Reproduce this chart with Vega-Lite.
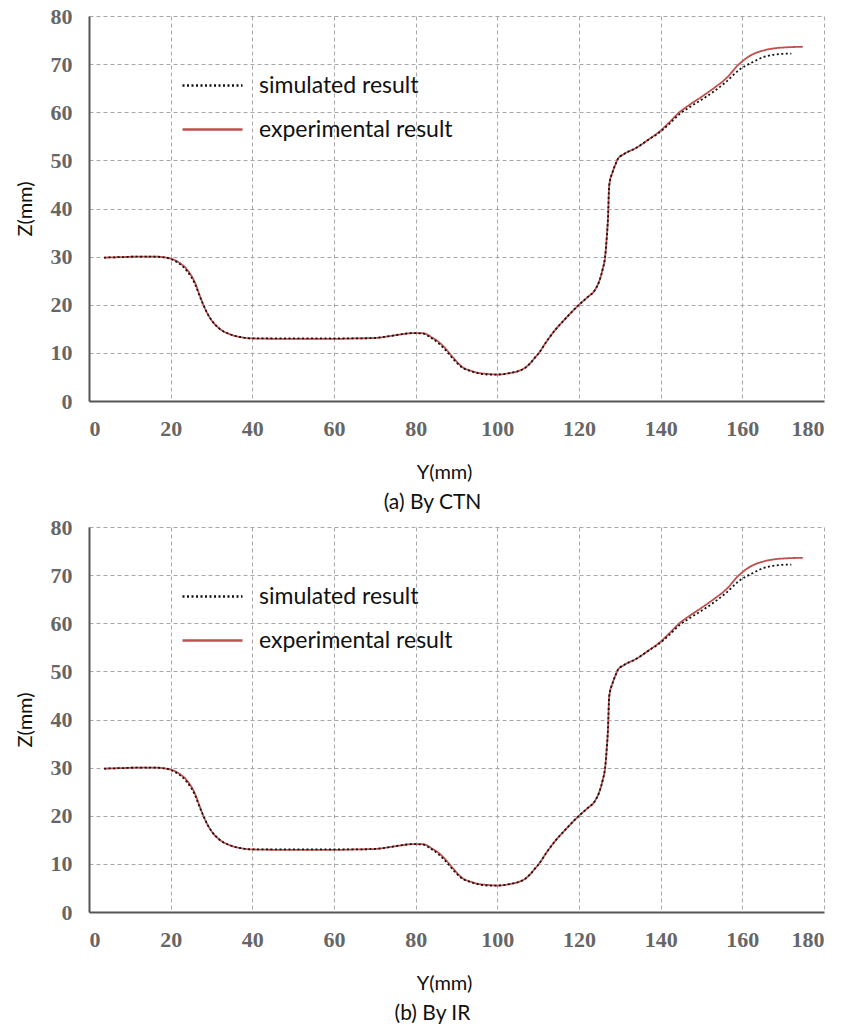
{
  "$schema": "https://vega.github.io/schema/vega-lite/v6.json",
  "background": "white",
  "padding": {"left": 15, "top": 5, "right": 5, "bottom": 5},
  "spacing": 3,
  "datasets": {
    "profile": [
      {"series": "experimental result", "Y": 3.7, "Z": 29.8},
      {"series": "experimental result", "Y": 8, "Z": 29.9},
      {"series": "experimental result", "Y": 12, "Z": 30},
      {"series": "experimental result", "Y": 16, "Z": 30},
      {"series": "experimental result", "Y": 18, "Z": 29.9},
      {"series": "experimental result", "Y": 20, "Z": 29.6},
      {"series": "experimental result", "Y": 22, "Z": 28.8},
      {"series": "experimental result", "Y": 24, "Z": 27.3},
      {"series": "experimental result", "Y": 26, "Z": 24.5},
      {"series": "experimental result", "Y": 27, "Z": 22.2},
      {"series": "experimental result", "Y": 28, "Z": 20},
      {"series": "experimental result", "Y": 29, "Z": 18.2},
      {"series": "experimental result", "Y": 30, "Z": 16.8},
      {"series": "experimental result", "Y": 32, "Z": 15},
      {"series": "experimental result", "Y": 34.4, "Z": 13.9},
      {"series": "experimental result", "Y": 37, "Z": 13.3},
      {"series": "experimental result", "Y": 40, "Z": 13},
      {"series": "experimental result", "Y": 50, "Z": 12.9},
      {"series": "experimental result", "Y": 60, "Z": 12.9},
      {"series": "experimental result", "Y": 65, "Z": 13},
      {"series": "experimental result", "Y": 70, "Z": 13.1},
      {"series": "experimental result", "Y": 73, "Z": 13.4},
      {"series": "experimental result", "Y": 76, "Z": 13.8},
      {"series": "experimental result", "Y": 79.3, "Z": 14.1},
      {"series": "experimental result", "Y": 81.7, "Z": 14.1},
      {"series": "experimental result", "Y": 84, "Z": 13.2},
      {"series": "experimental result", "Y": 86, "Z": 12},
      {"series": "experimental result", "Y": 87.4, "Z": 10.8},
      {"series": "experimental result", "Y": 89, "Z": 9.2},
      {"series": "experimental result", "Y": 91.5, "Z": 7},
      {"series": "experimental result", "Y": 93.5, "Z": 6.3},
      {"series": "experimental result", "Y": 95.6, "Z": 5.8},
      {"series": "experimental result", "Y": 98, "Z": 5.6},
      {"series": "experimental result", "Y": 100, "Z": 5.5},
      {"series": "experimental result", "Y": 103, "Z": 5.8},
      {"series": "experimental result", "Y": 105.4, "Z": 6.3},
      {"series": "experimental result", "Y": 107, "Z": 7},
      {"series": "experimental result", "Y": 108, "Z": 7.8},
      {"series": "experimental result", "Y": 109, "Z": 8.8},
      {"series": "experimental result", "Y": 110.2, "Z": 10},
      {"series": "experimental result", "Y": 112, "Z": 12.3},
      {"series": "experimental result", "Y": 114.4, "Z": 15},
      {"series": "experimental result", "Y": 116, "Z": 16.5},
      {"series": "experimental result", "Y": 118, "Z": 18.3},
      {"series": "experimental result", "Y": 120, "Z": 20},
      {"series": "experimental result", "Y": 122, "Z": 21.5},
      {"series": "experimental result", "Y": 124, "Z": 23.2},
      {"series": "experimental result", "Y": 125, "Z": 25},
      {"series": "experimental result", "Y": 125.8, "Z": 27.4},
      {"series": "experimental result", "Y": 126.4, "Z": 30},
      {"series": "experimental result", "Y": 126.8, "Z": 34},
      {"series": "experimental result", "Y": 127.1, "Z": 38},
      {"series": "experimental result", "Y": 127.4, "Z": 44.8},
      {"series": "experimental result", "Y": 128.2, "Z": 47.5},
      {"series": "experimental result", "Y": 129, "Z": 49.3},
      {"series": "experimental result", "Y": 129.5, "Z": 50.3},
      {"series": "experimental result", "Y": 131, "Z": 51.3},
      {"series": "experimental result", "Y": 134, "Z": 52.6},
      {"series": "experimental result", "Y": 137, "Z": 54.3},
      {"series": "experimental result", "Y": 140, "Z": 56.2},
      {"series": "experimental result", "Y": 142, "Z": 57.8},
      {"series": "experimental result", "Y": 144.6, "Z": 60},
      {"series": "experimental result", "Y": 147, "Z": 61.5},
      {"series": "experimental result", "Y": 150, "Z": 63.2},
      {"series": "experimental result", "Y": 153, "Z": 65},
      {"series": "experimental result", "Y": 156, "Z": 67},
      {"series": "experimental result", "Y": 159.2, "Z": 70},
      {"series": "experimental result", "Y": 162, "Z": 71.8},
      {"series": "experimental result", "Y": 165, "Z": 72.8},
      {"series": "experimental result", "Y": 168, "Z": 73.3},
      {"series": "experimental result", "Y": 171, "Z": 73.5},
      {"series": "experimental result", "Y": 174.8, "Z": 73.6},
      {"series": "simulated result", "Y": 3.7, "Z": 29.8},
      {"series": "simulated result", "Y": 8, "Z": 29.9},
      {"series": "simulated result", "Y": 12, "Z": 30},
      {"series": "simulated result", "Y": 16, "Z": 30},
      {"series": "simulated result", "Y": 18, "Z": 29.9},
      {"series": "simulated result", "Y": 20, "Z": 29.5},
      {"series": "simulated result", "Y": 22, "Z": 28.6},
      {"series": "simulated result", "Y": 24, "Z": 27},
      {"series": "simulated result", "Y": 26, "Z": 24.2},
      {"series": "simulated result", "Y": 27, "Z": 22},
      {"series": "simulated result", "Y": 28, "Z": 20},
      {"series": "simulated result", "Y": 29, "Z": 18.2},
      {"series": "simulated result", "Y": 30, "Z": 16.8},
      {"series": "simulated result", "Y": 32, "Z": 15},
      {"series": "simulated result", "Y": 34.4, "Z": 13.9},
      {"series": "simulated result", "Y": 37, "Z": 13.3},
      {"series": "simulated result", "Y": 40, "Z": 13},
      {"series": "simulated result", "Y": 50, "Z": 13},
      {"series": "simulated result", "Y": 60, "Z": 13},
      {"series": "simulated result", "Y": 65, "Z": 13},
      {"series": "simulated result", "Y": 70, "Z": 13.1},
      {"series": "simulated result", "Y": 73, "Z": 13.4},
      {"series": "simulated result", "Y": 76, "Z": 13.8},
      {"series": "simulated result", "Y": 79.3, "Z": 14.1},
      {"series": "simulated result", "Y": 81.7, "Z": 14},
      {"series": "simulated result", "Y": 84, "Z": 13},
      {"series": "simulated result", "Y": 86, "Z": 11.7},
      {"series": "simulated result", "Y": 87.4, "Z": 10.5},
      {"series": "simulated result", "Y": 89, "Z": 8.9},
      {"series": "simulated result", "Y": 91.5, "Z": 6.9},
      {"series": "simulated result", "Y": 93.5, "Z": 6.2},
      {"series": "simulated result", "Y": 95.6, "Z": 5.7},
      {"series": "simulated result", "Y": 98, "Z": 5.5},
      {"series": "simulated result", "Y": 100, "Z": 5.5},
      {"series": "simulated result", "Y": 103, "Z": 5.8},
      {"series": "simulated result", "Y": 105.4, "Z": 6.3},
      {"series": "simulated result", "Y": 107, "Z": 7},
      {"series": "simulated result", "Y": 108, "Z": 7.8},
      {"series": "simulated result", "Y": 109, "Z": 8.8},
      {"series": "simulated result", "Y": 110.2, "Z": 10},
      {"series": "simulated result", "Y": 112, "Z": 12.3},
      {"series": "simulated result", "Y": 114.4, "Z": 15},
      {"series": "simulated result", "Y": 116, "Z": 16.5},
      {"series": "simulated result", "Y": 118, "Z": 18.3},
      {"series": "simulated result", "Y": 120, "Z": 20},
      {"series": "simulated result", "Y": 122, "Z": 21.5},
      {"series": "simulated result", "Y": 124, "Z": 23.2},
      {"series": "simulated result", "Y": 125, "Z": 25},
      {"series": "simulated result", "Y": 125.8, "Z": 27.4},
      {"series": "simulated result", "Y": 126.4, "Z": 30},
      {"series": "simulated result", "Y": 126.8, "Z": 34},
      {"series": "simulated result", "Y": 127.1, "Z": 38},
      {"series": "simulated result", "Y": 127.4, "Z": 44.8},
      {"series": "simulated result", "Y": 128.2, "Z": 47.5},
      {"series": "simulated result", "Y": 129, "Z": 49.3},
      {"series": "simulated result", "Y": 129.5, "Z": 50.3},
      {"series": "simulated result", "Y": 131, "Z": 51.3},
      {"series": "simulated result", "Y": 134, "Z": 52.6},
      {"series": "simulated result", "Y": 137, "Z": 54.3},
      {"series": "simulated result", "Y": 140, "Z": 56},
      {"series": "simulated result", "Y": 142, "Z": 57.5},
      {"series": "simulated result", "Y": 144.6, "Z": 59.6},
      {"series": "simulated result", "Y": 147, "Z": 61},
      {"series": "simulated result", "Y": 150, "Z": 62.6},
      {"series": "simulated result", "Y": 153, "Z": 64.3},
      {"series": "simulated result", "Y": 156, "Z": 66.3},
      {"series": "simulated result", "Y": 159.2, "Z": 68.8},
      {"series": "simulated result", "Y": 162.5, "Z": 70.4},
      {"series": "simulated result", "Y": 165, "Z": 71.4},
      {"series": "simulated result", "Y": 168, "Z": 72},
      {"series": "simulated result", "Y": 172, "Z": 72.2}
    ]
  },
  "config": {
    "view": {"stroke": null},
    "axis": {
      "labelFont": "Liberation Serif",
      "labelFontWeight": "bold",
      "labelFontSize": 22,
      "labelColor": "#666666",
      "ticks": false,
      "labelPadding": 17,
      "domainColor": "#555555",
      "domainWidth": 2,
      "gridColor": "#a8a8a8",
      "gridDash": [4, 3],
      "gridWidth": 1,
      "titleFont": "Lato",
      "titleFontWeight": "normal",
      "titleFontSize": 20,
      "titleColor": "#111111"
    },
    "legend": {
      "orient": "none",
      "legendX": 92,
      "legendY": 38,
      "title": null,
      "labelFont": "Lato",
      "labelFontSize": 23,
      "labelLimit": 400,
      "labelColor": "#111111",
      "symbolType": "stroke",
      "symbolSize": 3600,
      "symbolStrokeWidth": 2.5,
      "rowPadding": -10,
      "labelOffset": 15
    },
    "title": {"font": "Lato", "fontSize": 21, "fontWeight": "normal", "color": "#111111", "orient": "bottom", "offset": 10, "dx": -24}
  },
  "vconcat": [
    {
      "title": {"text": "(a) By CTN"},
      "width": 735,
      "height": 385,
      "data": {"name": "profile"},
      "mark": {"type": "line", "strokeWidth": 1.8, "interpolate": "monotone"},
      "encoding": {
        "x": {"field": "Y", "type": "quantitative", "scale": {"domain": [0, 180], "nice": false}, "axis": {"values": [0, 20, 40, 60, 80, 100, 120, 140, 160, 180], "title": "Y(mm)", "titlePadding": 23, "titleX": 355}},
        "y": {"field": "Z", "type": "quantitative", "scale": {"domain": [0, 80], "nice": false}, "axis": {"values": [0, 10, 20, 30, 40, 50, 60, 70, 80], "title": "Z(mm)", "titlePadding": 15}},
        "order": {"field": "Y", "type": "quantitative"},
        "color": {"field": "series", "type": "nominal", "sort": ["simulated result", "experimental result"], "scale": {"domain": ["simulated result", "experimental result"], "range": ["#111111", "#c0504d"]}},
        "strokeDash": {"field": "series", "type": "nominal", "sort": ["simulated result", "experimental result"], "scale": {"domain": ["simulated result", "experimental result"], "range": [[2, 2.5], [1, 0]]}}
      }
    },
    {
      "title": {"text": "(b) By IR"},
      "width": 735,
      "height": 385,
      "data": {"name": "profile"},
      "mark": {"type": "line", "strokeWidth": 1.8, "interpolate": "monotone"},
      "encoding": {
        "x": {"field": "Y", "type": "quantitative", "scale": {"domain": [0, 180], "nice": false}, "axis": {"values": [0, 20, 40, 60, 80, 100, 120, 140, 160, 180], "title": "Y(mm)", "titlePadding": 23, "titleX": 355}},
        "y": {"field": "Z", "type": "quantitative", "scale": {"domain": [0, 80], "nice": false}, "axis": {"values": [0, 10, 20, 30, 40, 50, 60, 70, 80], "title": "Z(mm)", "titlePadding": 15}},
        "order": {"field": "Y", "type": "quantitative"},
        "color": {"field": "series", "type": "nominal", "sort": ["simulated result", "experimental result"], "scale": {"domain": ["simulated result", "experimental result"], "range": ["#111111", "#c0504d"]}},
        "strokeDash": {"field": "series", "type": "nominal", "sort": ["simulated result", "experimental result"], "scale": {"domain": ["simulated result", "experimental result"], "range": [[2, 2.5], [1, 0]]}}
      }
    }
  ],
  "resolve": {"scale": {"color": "independent", "strokeDash": "independent"}, "legend": {"color": "independent", "strokeDash": "independent"}}
}
